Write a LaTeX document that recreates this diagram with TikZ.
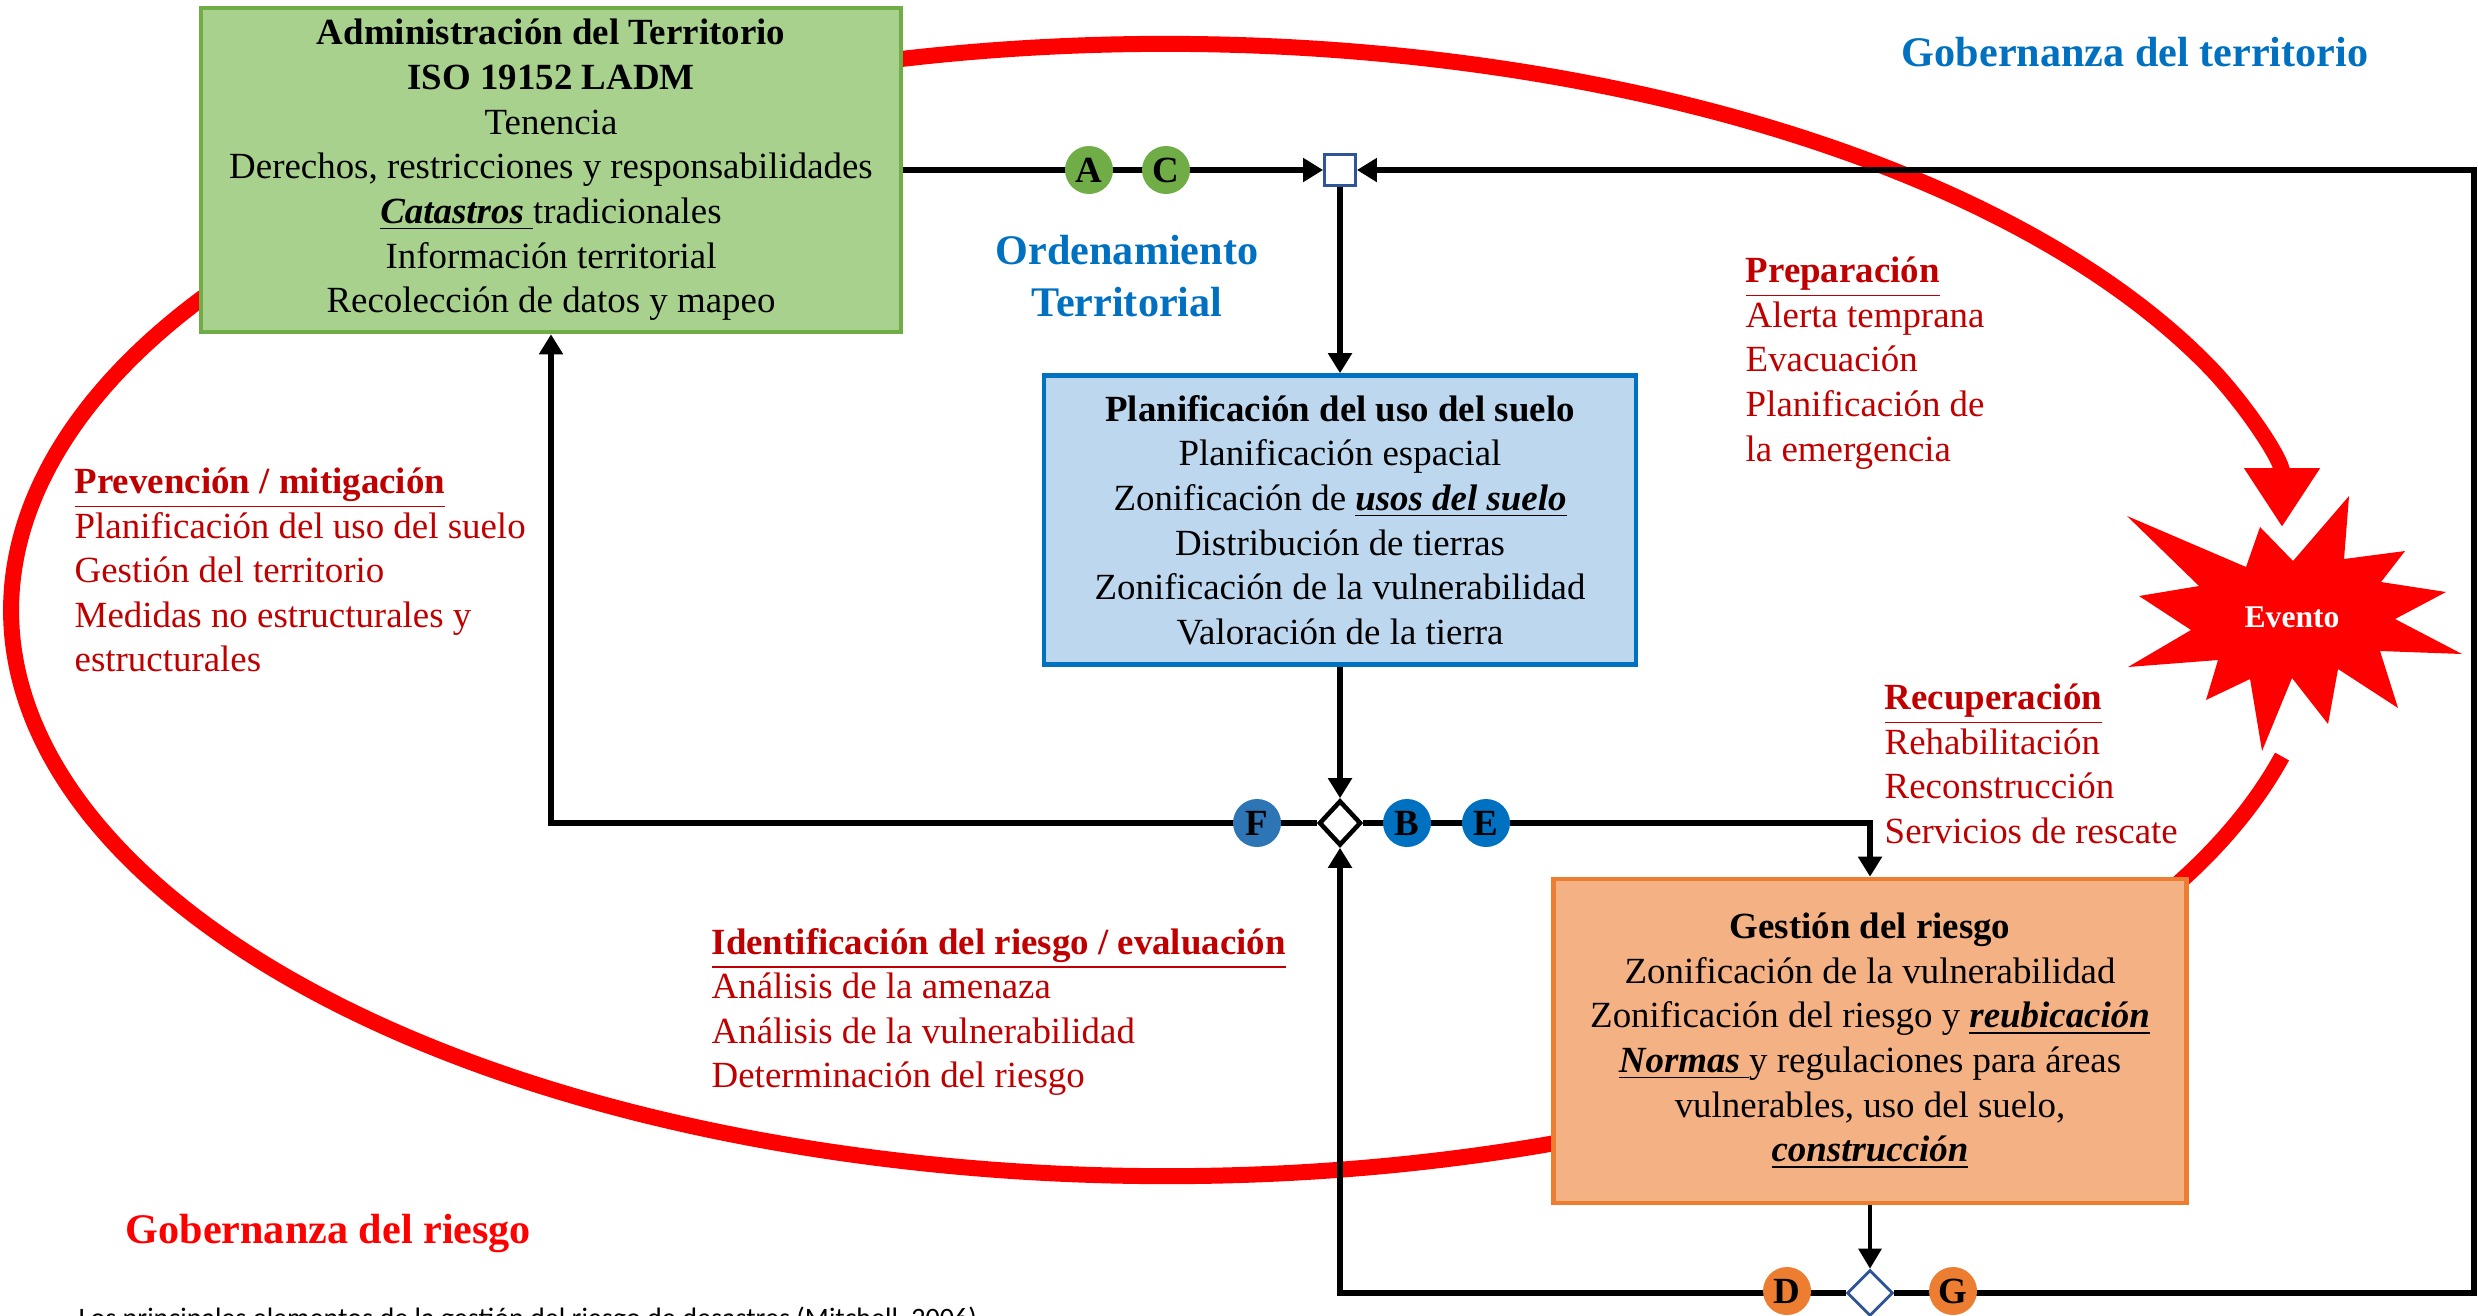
\documentclass[tikz,border=0pt]{standalone}
\usepackage{fontspec}
\setmainfont{Liberation Serif}
\newfontfamily\notafont{Carlito}
\usetikzlibrary{positioning,arrows.meta,shapes.geometric,calc}
\definecolor{verdefondo}{HTML}{A9D18E}
\definecolor{verdeborde}{HTML}{70AD47}
\definecolor{azulfondo}{HTML}{BDD7EE}
\definecolor{azulborde}{HTML}{0070C0}
\definecolor{naranjafondo}{HTML}{F4B183}
\definecolor{naranjaborde}{HTML}{ED7D31}
\definecolor{rojooscuro}{HTML}{C00000}
\definecolor{azulcirculo}{HTML}{2E75B6}
\definecolor{azulcuadro}{HTML}{2F5597}
\pgfdeclarelayer{fondo}
\pgfsetlayers{fondo,main}

\begin{document}
\begin{tikzpicture}[
    node distance=1.5cm,
    caja/.style={draw, line width=1.3pt, align=center, inner sep=2pt, font=\fontsize{10.5}{12.7}\selectfont},
    letra/.style={circle, minimum size=0.48cm, inner sep=0pt, font=\fontsize{10.5}{12}\selectfont\bfseries},
    flecha/.style={line width=1.7pt, -{Triangle[length=2mm, width=2.3mm]}},
    bloque/.style={anchor=west, align=left, text=rojooscuro, inner sep=0pt, font=\fontsize{10.5}{12.7}\selectfont},
    titulo/.style={text=azulborde, align=center, inner sep=0pt, font=\fontsize{12}{14.8}\selectfont\bfseries}
  ]
  \useasboundingbox (0,0) rectangle (24.78,13.15);

  % Nodes
  \node[caja, fill=verdefondo, draw=verdeborde, minimum width=7cm, minimum height=3.24cm] (adm) at (5.51,11.45)
  {\textbf{Administración del Territorio}\\ \textbf{ISO 19152 LADM}\\ Tenencia\\ Derechos, restricciones y responsabilidades\\
   \underline{\textbf{\textit{Catastros}}\ }tradicionales\\ Información territorial\\ Recolección de datos y mapeo};
  \node[caja, fill=azulfondo, draw=azulborde, minimum width=5.92cm, minimum height=2.89cm] (plan) at (13.40,7.95)
  {\textbf{Planificación del uso del suelo}\\ Planificación espacial\\ Zonificación de \underline{\textbf{\textit{usos del suelo}}}\\
   Distribución de tierras\\ Zonificación de la vulnerabilidad\\ Valoración de la tierra};
  \node[caja, fill=naranjafondo, draw=naranjaborde, minimum width=6.33cm, minimum height=3.24cm] (gest) at (18.70,2.74)
  {\textbf{Gestión del riesgo}\\ Zonificación de la vulnerabilidad\\ Zonificación del riesgo y \underline{\textbf{\textit{reubicación}}}\\
   \underline{\textbf{\textit{Normas}}\ }y regulaciones para áreas\\ vulnerables, uso del suelo,\\ \underline{\textbf{\textit{construcción}}}};

  \node[draw=azulcuadro, fill=white, line width=0.8pt, minimum size=0.31cm, inner sep=0pt] (union) at (13.40,11.45) {};
  \node[diamond, draw, fill=white, line width=1.3pt, minimum width=0.42cm, minimum height=0.45cm, inner sep=0pt] (cruce) at (13.40,4.92) {};
  \node[diamond, draw=azulcuadro, fill=white, line width=0.8pt, minimum width=0.46cm, minimum height=0.46cm, inner sep=0pt] (salida) at (18.70,0.22) {};
  \coordinate (marco) at (24.74,11.45);

  % Connections
  \draw[flecha] (adm.east) -- (union.west);
  \draw[flecha] (salida.east) -| (marco) -- (union.east);
  \draw[flecha] (union.south) -- (plan.north);
  \draw[flecha] (plan.south) -- (cruce.north);
  \draw[flecha] (cruce.west) -| (adm.south);
  \draw[flecha] (cruce.east) -| (gest.north);
  \draw[flecha, line width=0.9pt] (gest.south) -- (salida.north);
  \draw[flecha] (salida.west) -| (cruce.south);

  \node[letra, fill=verdeborde] (cA) at (10.89,11.45) {A};
  \node[letra, fill=verdeborde, right of=cA, node distance=0.77cm] (cC) {C};
  \node[letra, fill=azulcirculo] (cF) at (12.57,4.92) {F};
  \node[letra, fill=azulborde] (cB) at (14.07,4.92) {B};
  \node[letra, fill=azulborde, right of=cB, node distance=0.79cm] (cE) {E};
  \node[letra, fill=naranjaborde] (cD) at (17.87,0.24) {D};
  \node[letra, fill=naranjaborde] (cG) at (19.53,0.24) {G};

  % Evento
  \fill[red] (21.27,7.99) -- (22.46,7.48) -- (22.60,7.88) -- (22.93,7.54) -- (23.49,8.19) -- (23.44,7.56)
    -- (24.05,7.64) -- (23.81,7.33) -- (24.46,7.23) -- (23.95,6.96) -- (24.62,6.61) -- (23.80,6.64)
    -- (23.98,6.07) -- (23.38,6.46) -- (23.28,5.91) -- (22.92,6.37) -- (22.62,5.64) -- (22.50,6.36)
    -- (22.06,6.15) -- (22.18,6.55) -- (21.28,6.48) -- (21.91,6.85) -- (21.39,7.19) -- (21.99,7.29) -- cycle;
  \node[text=white, font=\fontsize{9}{11}\selectfont\bfseries] (evento) at (22.92,6.98) {Evento};
  \coordinate (llegada) at (22.82,7.88);

  \begin{pgfonlayer}{fondo}
    \draw[red, line width=0.16cm, -{Triangle[length=0.59cm, width=0.72cm]}]
      (22.82,5.585) arc[start angle=-15, end angle=-335, x radius=11.55, y radius=5.66]
      .. controls (22.47,9.08) and (22.82,8.55) .. (llegada);
  \end{pgfonlayer}

  % Annotations
  \node[titulo] (ordenamiento) at (11.27,10.39) {Ordenamiento\\Territorial};
  \node[titulo] (gobterritorio) at (21.35,12.63) {Gobernanza del territorio};
  \node[titulo, text=red, anchor=west] (gobriesgo) at (1.25,0.82) {Gobernanza del riesgo};

  \node[bloque] (prevencion) at (0.74,7.45)
  {\underline{\textbf{Prevención / mitigación}}\\ Planificación del uso del suelo\\ Gestión del territorio\\ Medidas no estructurales y\\ estructurales};
  \node[bloque] (preparacion) at (17.45,9.52)
  {\underline{\textbf{Preparación}}\\ Alerta temprana\\ Evacuación\\ Planificación de\\ la emergencia};
  \node[bloque] (recuperacion) at (18.84,5.51)
  {\underline{\textbf{Recuperación}}\\ Rehabilitación\\ Reconstrucción\\ Servicios de rescate};
  \node[bloque] (identificacion) at (7.11,3.03)
  {\underline{\textbf{Identificación del riesgo / evaluación}}\\ Análisis de la amenaza\\ Análisis de la vulnerabilidad\\ Determinación del riesgo};

  \node[anchor=north west, inner sep=0pt, font=\notafont\fontsize{8}{10}\selectfont] (fuente) at (0.78,0.09)
  {Los principales elementos de la gestión del riesgo de desastres (Mitchell, 2006)};
\end{tikzpicture}
\end{document}
